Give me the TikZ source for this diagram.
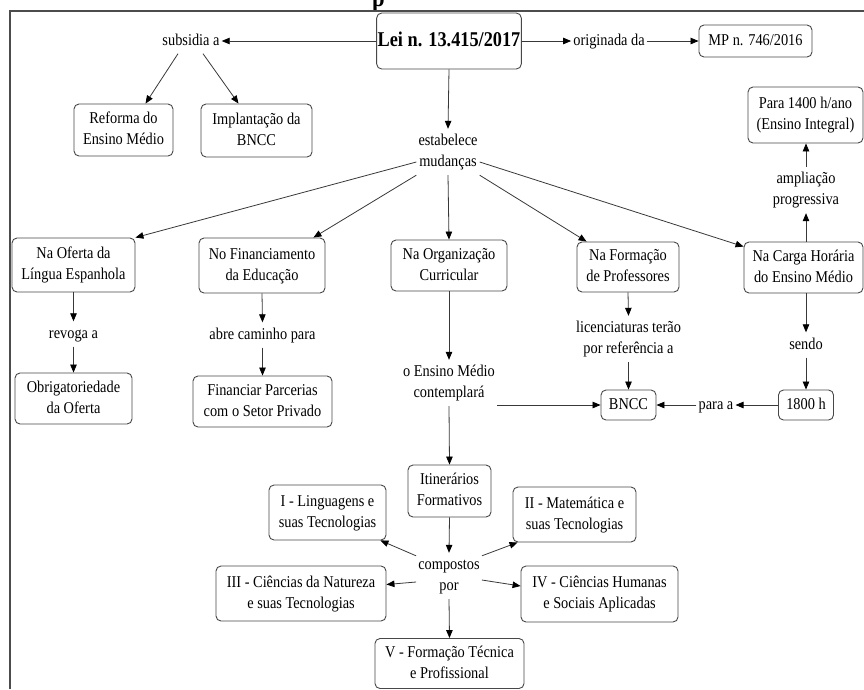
\documentclass[tikz,border=0pt]{standalone}
\usepackage{fontspec}
\setmainfont{Liberation Serif}
\usepackage{graphicx}
\usetikzlibrary{arrows.meta}
\newcommand\ct[1]{\scalebox{0.87}[1]{\begin{tabular}{@{}c@{}}#1\end{tabular}}}
\tikzset{
  box/.style 2 args={draw=black!72, line width=0.9pt, rounded corners=5pt, fill=white,
    minimum width=#1, minimum height=#2, inner sep=1pt},
  lbl/.style={inner sep=2pt},
  ln/.style={draw=black!78, line width=0.8pt},
  arr/.style={ln, -{Triangle[length=8pt,width=6.5pt,color=black]}},
}
\begin{document}
\begin{tikzpicture}[x=1pt,y=-1pt, font=\fontsize{16.5}{21}\selectfont]
\useasboundingbox (0,0) rectangle (864,689);
\begin{scope}
\clip (0,0) rectangle (864,689);
\node[font=\bfseries\fontsize{26}{30}\selectfont, anchor=base west, inner sep=0] (ttl) at (372,6) {\scalebox{0.87}[1]{p}};
\end{scope}
% frame
\draw[black!70, line width=1.3pt] (10,689) -- (10,11) -- (864,11);

% boxes
\node[box={144pt}{56pt}, font=\bfseries\fontsize{21}{25}\selectfont] (lei) at (449,41) {\ct{Lei n. 13.415/2017}};
\node[box={113pt}{32pt}] (mp) at (755.5,41) {\ct{MP n. 746/2016}};
\node[box={99pt}{52pt}] (ref) at (123.5,130) {\ct{Reforma do\\Ensino Médio}};
\node[box={111pt}{53pt}] (imp) at (256.5,130.5) {\ct{Implantação da\\BNCC}};
\node[box={115pt}{56pt}] (p1400) at (805.5,115) {\ct{Para 1400 h/ano\\(Ensino Integral)}};
\node[box={123pt}{54pt}] (oferta) at (73.5,265) {\ct{Na Oferta da\\Língua Espanhola}};
\node[box={126pt}{55pt}] (fin) at (262,265.5) {\ct{No Financiamento\\da Educação}};
\node[box={116pt}{51pt}] (org) at (449,265.5) {\ct{Na Organização\\Curricular}};
\node[box={102pt}{50pt}] (form) at (628,267) {\ct{Na Formação\\de Professores}};
\node[box={119pt}{51pt}] (carga) at (803.5,267.5) {\ct{Na Carga Horária\\do Ensino Médio}};
\node[box={117pt}{51pt}] (obrig) at (73.5,398.5) {\ct{Obrigatoriedade\\da Oferta}};
\node[box={139pt}{51pt}] (parc) at (262.5,401.5) {\ct{Financiar Parcerias\\com o Setor Privado}};
\node[box={55pt}{30pt}] (bncc) at (628.5,405) {\ct{BNCC}};
\node[box={55pt}{30pt}] (h1800) at (806,405) {\ct{1800 h}};
\node[box={83pt}{52pt}] (itin) at (449.5,491) {\ct{Itinerários\\Formativos}};
\node[box={117pt}{55pt}] (lin) at (327.5,512.5) {\ct{I - Linguagens e\\suas Tecnologias}};
\node[box={123pt}{55pt}] (mat) at (574.5,514.5) {\ct{II - Matemática e\\suas Tecnologias}};
\node[box={170pt}{55pt}] (nat) at (301,593.5) {\ct{III - Ciências da Natureza\\e suas Tecnologias}};
\node[box={157pt}{56pt}] (hum) at (599.5,594) {\ct{IV - Ciências Humanas\\e Sociais Aplicadas}};
\node[box={149pt}{50pt}] (tec) at (449.5,663.5) {\ct{V - Formação Técnica\\e Profissional}};

% labels
\node[lbl] (sub) at (191,41) {\ct{subsidia a}};
\node[lbl] (orig) at (609,41) {\ct{originada da}};
\node[lbl] (est) at (448,152) {\ct{estabelece\\mudanças}};
\node[lbl] (ampl) at (806,190) {\ct{ampliação\\progressiva}};
\node[lbl] (revoga) at (73.5,334) {\ct{revoga a}};
\node[lbl] (abre) at (262.5,335) {\ct{abre caminho para}};
\node[lbl] (cont) at (449,383) {\ct{o Ensino Médio\\contemplará}};
\node[lbl] (lic) at (628.5,339) {\ct{licenciaturas terão\\por referência a}};
\node[lbl] (sendo) at (806,345) {\ct{sendo}};
\node[lbl] (para) at (716,405) {\ct{para a}};
\node[lbl] (comp) at (449,576) {\ct{compostos\\por}};

% connectors
\draw[arr] (lei.west) -- (sub.east);
\draw[arr] ([xshift=-13pt]sub.south) -- ([xshift=22pt]ref.north);
\draw[arr] ([xshift=12pt]sub.south) -- ([xshift=-18pt]imp.north);
\draw[arr] (lei.east) -- (orig.west);
\draw[arr] (orig.east) -- (mp.west);
\draw[arr] (lei.south) -- (est.north);

\draw[arr] ([yshift=-10pt]est.west) -- (oferta.north east);
\draw[arr] (est.south west) -- ([xshift=-12pt]fin.north east);
\draw[arr] (est.south) -- (org.north);
\draw[arr] (est.south east) -- ([xshift=10pt]form.north west);
\draw[arr] ([yshift=-10pt]est.east) -- ([yshift=-5pt]carga.north west);

\draw[arr] (ampl.south |- carga.north) -- (ampl.south);
\draw[arr] (ampl.north) -- (ampl.north |- p1400.south);

\draw[arr] (oferta.south) -- (revoga.north);
\draw[arr] (revoga.south) -- (obrig.north);
\draw[arr] (fin.south) -- (abre.north);
\draw[arr] (abre.south) -- (parc.north);

\draw[arr] (org.south) -- (cont.north);
\draw[arr] (cont.south east |- bncc.west) -- (bncc.west);
\draw[arr] (form.south) -- (lic.north);
\draw[arr] (lic.south) -- (bncc.north);
\draw[arr] (sendo.north |- carga.south) -- (sendo.north);
\draw[arr] (sendo.south) -- (h1800.north);
\draw[arr] (h1800.west) -- (para.east);
\draw[arr] (para.west) -- (bncc.east);

\draw[arr] (cont.south) -- (itin.north);
\draw[arr] (itin.south) -- (comp.north);
\draw[arr] ([yshift=-3pt]comp.north west) -- ([xshift=-6pt]lin.south east);
\draw[arr] ([yshift=-3pt]comp.north east) -- ([xshift=5pt]mat.south west);
\draw[arr] ([yshift=-6pt]comp.west) -- ([yshift=9pt]nat.east);
\draw[arr] ([yshift=-4pt]comp.east) -- ([yshift=8pt]hum.west);
\draw[arr] (comp.south) -- (tec.north);
\end{tikzpicture}
\end{document}
